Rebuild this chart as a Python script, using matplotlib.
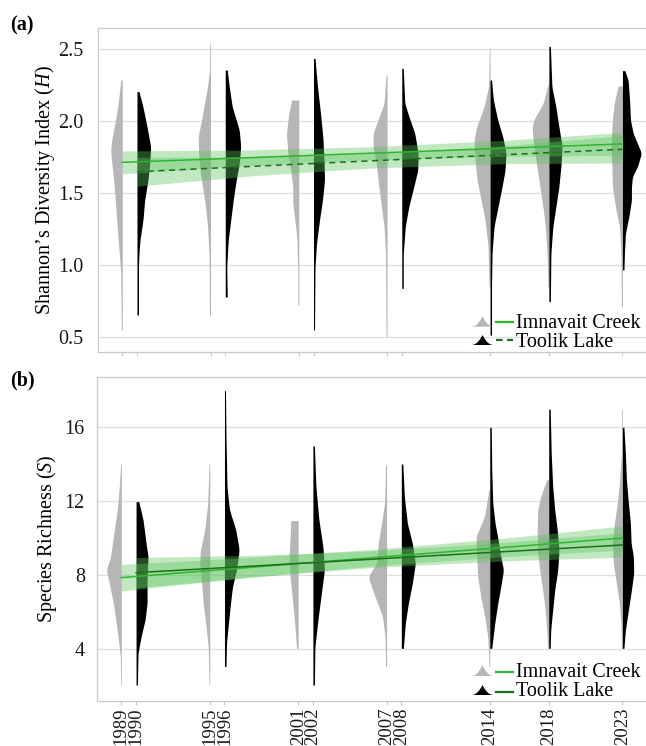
import numpy as np
import matplotlib
matplotlib.use('Agg')
import matplotlib.pyplot as plt
from matplotlib.patches import Polygon
from matplotlib.lines import Line2D

plt.rcParams['font.family'] = ['Liberation Serif', 'DejaVu Serif']
plt.rcParams['mathtext.fontset'] = 'custom'
plt.rcParams['mathtext.rm'] = 'Liberation Serif'
plt.rcParams['mathtext.it'] = 'Liberation Serif:italic'

# ---------------- data ----------------
years_I = [1989, 1995, 2001, 2007, 2014, 2018, 2023]   # Imnavait Creek
years_T = [1990, 1996, 2002, 2008, 2014, 2018, 2023]   # Toolik Lake
tick_years = [1989, 1990, 1995, 1996, 2001, 2002, 2007, 2008, 2014, 2018, 2023]

# Panel (a): Shannon H density profiles (levels, relative density)
H_I_levels = [
    [0.55, 0.944, 1.13, 1.31, 1.45, 1.59, 1.71, 1.80, 1.894, 2.01, 2.125, 2.287],
    [0.655, 1.083, 1.27, 1.407, 1.546, 1.66, 1.78, 1.894, 2.009, 2.125, 2.24, 2.356, 2.546],
    [0.724, 0.968, 1.2, 1.315, 1.43, 1.546, 1.66, 1.78, 1.917, 2.055, 2.148],
    [0.505, 1.083, 1.27, 1.43, 1.593, 1.708, 1.824, 1.917, 2.01, 2.125, 2.32],
    [0.852, 1.13, 1.315, 1.454, 1.593, 1.73, 1.87, 1.963, 2.10, 2.24, 2.507],
    [0.852, 1.037, 1.222, 1.361, 1.5, 1.64, 1.78, 1.894, 1.963, 2.01, 2.125, 2.252],
    [0.713, 1.083, 1.27, 1.407, 1.546, 1.66, 1.78, 1.894, 2.01, 2.125, 2.245],
]
H_I_dens = [
    [1, 1.5, 3.5, 5.5, 7, 8.5, 10.5, 11.7, 10, 6.7, 4, 1.5],
    [1, 1.5, 3, 5, 8, 10.5, 12, 12.3, 9, 6, 3, 1, 0.7],
    [1, 1, 2, 4, 6, 6, 8, 11, 12.3, 10, 7],
    [1, 1.5, 3, 6, 9, 10.7, 14, 14, 9, 3, 1],
    [1, 2, 5, 9, 13, 15, 16, 13.3, 6, 1.5, 0.7],
    [1, 1.5, 3, 5, 8, 11, 14, 16, 16.7, 15, 5.7, 1],
    [1, 1.5, 3, 7, 10, 10.5, 11, 11, 10, 8.3, 4.3],
]
H_T_levels = [
    [0.655, 0.78, 0.99, 1.083, 1.176, 1.315, 1.454, 1.593, 1.708, 1.824, 1.963, 2.10, 2.206],
    [0.78, 0.99, 1.176, 1.315, 1.454, 1.593, 1.708, 1.824, 1.94, 2.10, 2.24, 2.356],
    [0.551, 0.99, 1.153, 1.315, 1.454, 1.593, 1.73, 1.894, 2.055, 2.24, 2.437],
    [0.84, 1.083, 1.27, 1.407, 1.546, 1.66, 1.78, 1.917, 2.03, 2.125, 2.368],
    [0.516, 0.852, 1.083, 1.27, 1.407, 1.546, 1.66, 1.78, 1.894, 2.009, 2.148, 2.287],
    [0.748, 1.083, 1.27, 1.407, 1.546, 1.685, 1.824, 1.963, 2.10, 2.24, 2.52],
    [0.968, 1.083, 1.222, 1.36, 1.454, 1.546, 1.616, 1.685, 1.78, 1.917, 2.01, 2.125, 2.287, 2.352],
]
H_T_dens = [
    [1.5, 1.5, 1.5, 2, 3, 6, 7.7, 11, 12.7, 13.7, 10, 6, 2],
    [2, 1.5, 3, 5.5, 8, 11, 14, 15.5, 14, 7, 4, 2],
    [1, 1.5, 3, 6, 9, 11, 10.5, 9.3, 7, 4, 1.5],
    [1.5, 1.5, 3.5, 7, 12, 16, 16.3, 13, 7.3, 3, 1.5],
    [1.5, 1.5, 2, 4, 8, 12, 15, 16, 12.7, 7.7, 3.3, 1.5],
    [1.5, 2, 4, 7, 10, 12, 13.3, 10, 7, 3, 1.5],
    [1.5, 2, 3, 7, 9, 9, 10, 15, 19, 10.7, 8, 7.3, 5.7, 2.3],
]

# Panel (b): species richness S density profiles
S_I_levels = [
    [2.03, 3.57, 4.29, 5.38, 6.46, 7.54, 8.27, 8.99, 10.07, 11.52, 12.78, 14.01],
    [2.03, 4.11, 5.38, 6.46, 7.54, 8.63, 9.35, 10.44, 11.88, 14.0],
    [4.02, 4.65, 5.74, 6.82, 7.91, 8.99, 10.07, 10.94],
    [3.03, 4.65, 5.74, 6.46, 7.18, 7.91, 8.63, 9.71, 10.8, 11.88, 13.96],
    [3.03, 4.65, 5.74, 6.82, 7.91, 8.99, 10.07, 11.16, 12.24, 12.6],
    [4.02, 4.65, 6.10, 7.18, 8.27, 9.35, 10.44, 11.52, 12.24, 13.15],
    [4.02, 5.38, 6.46, 7.54, 8.63, 9.71, 10.8, 11.88, 12.96, 14.59, 16.98],
]
S_I_dens = [
    [0.7, 1, 2.5, 5, 8, 12, 15, 10.7, 8, 4, 2, 0.7],
    [0.7, 1.5, 4, 6.5, 8, 10, 9.3, 5, 2, 0.7],
    [1.5, 2.5, 4, 6, 8, 9, 8, 7.3],
    [1, 1.5, 4, 9, 14, 18.3, 10, 8.3, 5, 2, 1],
    [0.7, 2, 5, 9, 12, 13, 13.7, 5.3, 2, 1],
    [1, 1.5, 3.5, 6, 9, 11, 11.5, 11, 8, 2],
    [1, 1.5, 3, 6, 9, 10, 8, 5, 3, 1, 0.7],
]
S_T_levels = [
    [2.03, 3.75, 4.65, 5.56, 6.46, 7.91, 8.99, 9.71, 10.98, 11.97],
    [3.03, 4.29, 5.38, 6.46, 7.36, 8.27, 9.35, 10.44, 11.52, 12.78, 15.49, 17.99],
    [2.03, 4.11, 5.56, 6.82, 8.27, 9.53, 10.98, 12.78, 14.99],
    [4.02, 5.38, 6.46, 7.54, 8.63, 9.71, 10.8, 12.24, 14.01],
    [4.02, 5.38, 6.46, 7.36, 8.27, 8.99, 9.71, 10.8, 11.88, 13.69, 16.0],
    [4.02, 5.02, 6.10, 7.18, 8.27, 9.35, 10.44, 11.52, 12.78, 14.59, 16.98],
    [4.02, 5.02, 6.10, 7.18, 8.09, 8.99, 9.71, 10.8, 11.88, 13.15, 14.59, 16.0],
]
S_T_dens = [
    [1.3, 2, 5, 9, 11, 11, 12, 10, 7, 2.7],
    [1.5, 2, 4, 6, 8, 12, 14.7, 11.3, 5, 2.5, 1.5, 1],
    [1.5, 2, 5, 8, 11.5, 10, 6, 3, 1.5],
    [2, 4, 7, 11, 14, 11, 6, 3, 1.5],
    [2, 5, 8, 11, 13.7, 11, 9, 5.3, 3, 2, 1.5],
    [1.5, 2, 4, 6, 9, 10.3, 8.5, 6, 4, 2.5, 1.5],
    [1.5, 3, 6, 9, 11.3, 11, 8.7, 8, 6, 4, 3, 1.5],
]

# Regression fits with confidence bands
fit_years_I = [1989, 1997, 2006, 2015, 2023]
fit_years_T = [1990, 1998, 2006, 2015, 2023]
H_I_fit = [1.715, 1.745, 1.779, 1.813, 1.843]
H_I_lo = [1.635, 1.690, 1.734, 1.758, 1.763]
H_I_hi = [1.795, 1.800, 1.824, 1.868, 1.923]
H_T_fit = [1.650, 1.688, 1.726, 1.768, 1.806]
H_T_lo = [1.550, 1.623, 1.676, 1.706, 1.711]
H_T_hi = [1.750, 1.753, 1.776, 1.830, 1.901]

S_I_fit = [7.85, 8.36, 8.93, 9.49, 10.00]
S_I_lo = [7.13, 7.81, 8.48, 8.99, 9.35]
S_I_hi = [8.57, 8.91, 9.38, 9.99, 10.65]
S_T_fit = [8.12, 8.48, 8.85, 9.26, 9.62]
S_T_lo = [7.30, 7.90, 8.40, 8.76, 8.96]
S_T_hi = [8.94, 9.06, 9.30, 9.76, 10.28]

site_names = ['Imnavait Creek', 'Toolik Lake']

# ---------------- style ----------------
W, Hpx = 646, 746
GRAY = '#b6b6b6'
BLACK = '#000000'
LIGHT_GREEN = '#2fb52f'
DARK_GREEN = '#1c6e1c'
BAND = '#5cc45c'
FRAME = '#c8c8c8'
GRID = '#dedede'
FS = 14.5
FS_YEAR = 13.5
dens_to_year = 1 / 14.71

fig = plt.figure(figsize=(W / 100, Hpx / 100), dpi=100)


def frac_box(x0, x1, ytop, ybot):
    return [x0 / W, 1 - ybot / Hpx, (x1 - x0) / W, (ybot - ytop) / Hpx]


ax_a = fig.add_axes(frac_box(97.7, 648, 28.3, 351.7))
ax_b = fig.add_axes(frac_box(96.7, 648, 377.3, 700.7))


def smooth_profile(levels, dens):
    yy = np.linspace(levels[0], levels[-1], 300)
    ww = np.interp(yy, levels, dens)
    k = 9
    pad = np.pad(ww, k // 2, mode='edge')
    ww = np.convolve(pad, np.ones(k) / k, mode='valid')
    return yy, ww


def draw_half_violins(ax, years, levels_list, dens_list, color, side):
    for yr, lv, dn in zip(years, levels_list, dens_list):
        yy, ww = smooth_profile(lv, dn)
        w = ww * dens_to_year
        if side < 0:
            ax.fill_betweenx(yy, yr - w, yr, color=color, lw=0, zorder=2)
        else:
            ax.fill_betweenx(yy, yr, yr + w, color=color, lw=0, zorder=2)


def style_axes(ax, ylim, yticks, ylabel, label_x, pad):
    ax.set_xlim(1987.33, 1989 + (648 - 122.3) / 14.71)
    ax.set_ylim(*ylim)
    ax.set_yticks(yticks)
    ax.grid(axis='y', color=GRID, lw=0.9, zorder=0)
    ax.set_axisbelow(True)
    for s in ax.spines.values():
        s.set_color(FRAME)
        s.set_linewidth(0.9)
    ax.tick_params(axis='y', length=0, pad=pad, labelsize=FS, labelcolor='#1a1a1a')
    ax.tick_params(axis='x', length=3.2, width=0.8, color=FRAME, direction='out',
                   labelsize=FS_YEAR, labelcolor='#1a1a1a', pad=2)
    ax.set_xticks(tick_years)
    ax.text(label_x, 0.5, ylabel, transform=ax.transAxes, rotation=90,
            ha='center', va='center', fontsize=FS)


# Panel (a)
draw_half_violins(ax_a, years_I, H_I_levels, H_I_dens, GRAY, -1)
draw_half_violins(ax_a, years_T, H_T_levels, H_T_dens, BLACK, +1)
ax_a.fill_between(fit_years_I, H_I_lo, H_I_hi, color=BAND, alpha=0.38, lw=0, zorder=3)
ax_a.fill_between(fit_years_T, H_T_lo, H_T_hi, color=BAND, alpha=0.38, lw=0, zorder=3)
ax_a.plot(fit_years_I, H_I_fit, color=LIGHT_GREEN, lw=1.1, zorder=4)
ax_a.plot(fit_years_T, H_T_fit, color=DARK_GREEN, lw=1.1, ls=(0, (4, 3)), zorder=4)
style_axes(ax_a, (0.40, 2.646), [0.5, 1.0, 1.5, 2.0, 2.5],
           'Shannon\u2019s Diversity Index ($\\mathit{H}$)', (45 - 97.7) / 550, 10.5)
ax_a.set_yticklabels(['0.5', '1.0', '1.5', '2.0', '2.5'])
ax_a.tick_params(axis='x', labelbottom=False)

# Panel (b)
draw_half_violins(ax_b, years_I, S_I_levels, S_I_dens, GRAY, -1)
draw_half_violins(ax_b, years_T, S_T_levels, S_T_dens, BLACK, +1)
ax_b.fill_between(fit_years_I, S_I_lo, S_I_hi, color=BAND, alpha=0.38, lw=0, zorder=3)
ax_b.fill_between(fit_years_T, S_T_lo, S_T_hi, color=BAND, alpha=0.38, lw=0, zorder=3)
ax_b.plot(fit_years_I, S_I_fit, color=LIGHT_GREEN, lw=1.1, zorder=4)
ax_b.plot(fit_years_T, S_T_fit, color=DARK_GREEN, lw=1.1, zorder=4)
style_axes(ax_b, (1.18, 18.71), [4, 8, 12, 16],
           'Species Richness ($\\mathit{S}$)', (47 - 96.7) / 551, 8.5)
ax_b.set_xticklabels([str(y) for y in tick_years], rotation=90, va='top', ha='center')

# Panel labels
fig.text(10 / W, 1 - 30.5 / Hpx, '(a)', fontsize=FS, fontweight='bold', ha='left', va='baseline')
fig.text(10 / W, 1 - 385 / Hpx, '(b)', fontsize=FS, fontweight='bold', ha='left', va='baseline')


# Legends (drawn in figure pixel coordinates)
def P(sx, sy):
    return (sx / W, 1 - sy / Hpx)


def icon(x0, x1, ybase, ypeak, color):
    xs = np.linspace(-1, 1, 41)
    hs = (1 - np.abs(xs)) ** 2.3
    pts = [P(x0 + (x + 1) / 2 * (x1 - x0), ybase - h * (ybase - ypeak)) for x, h in zip(xs, hs)]
    fig.add_artist(Polygon(pts, closed=True, transform=fig.transFigure,
                           facecolor=color, edgecolor='none', zorder=5))


def legend_row(ybase, ypeak, yline, ytext, vcolor, lcolor, ls, name):
    icon(471, 494, ybase, ypeak, vcolor)
    (xa, ya), (xb, _) = P(496, yline), P(513, yline)
    fig.add_artist(Line2D([xa, xb], [ya, ya], transform=fig.transFigure,
                          color=lcolor, lw=1.6, ls=ls, zorder=5))
    fig.text(516 / W, 1 - ytext / Hpx, name, fontsize=FS, ha='left', va='baseline')


legend_row(326.7, 316, 322, 328.3, GRAY, LIGHT_GREEN, '-', site_names[0])
legend_row(345, 335, 340, 346.7, BLACK, DARK_GREEN, (0, (3, 2, 3, 2, 1, 2)), site_names[1])
legend_row(676, 665, 672, 677.3, GRAY, LIGHT_GREEN, '-', site_names[0])
legend_row(695, 685, 692, 696, BLACK, DARK_GREEN, '-', site_names[1])

fig.savefig('out.png', dpi=100)
